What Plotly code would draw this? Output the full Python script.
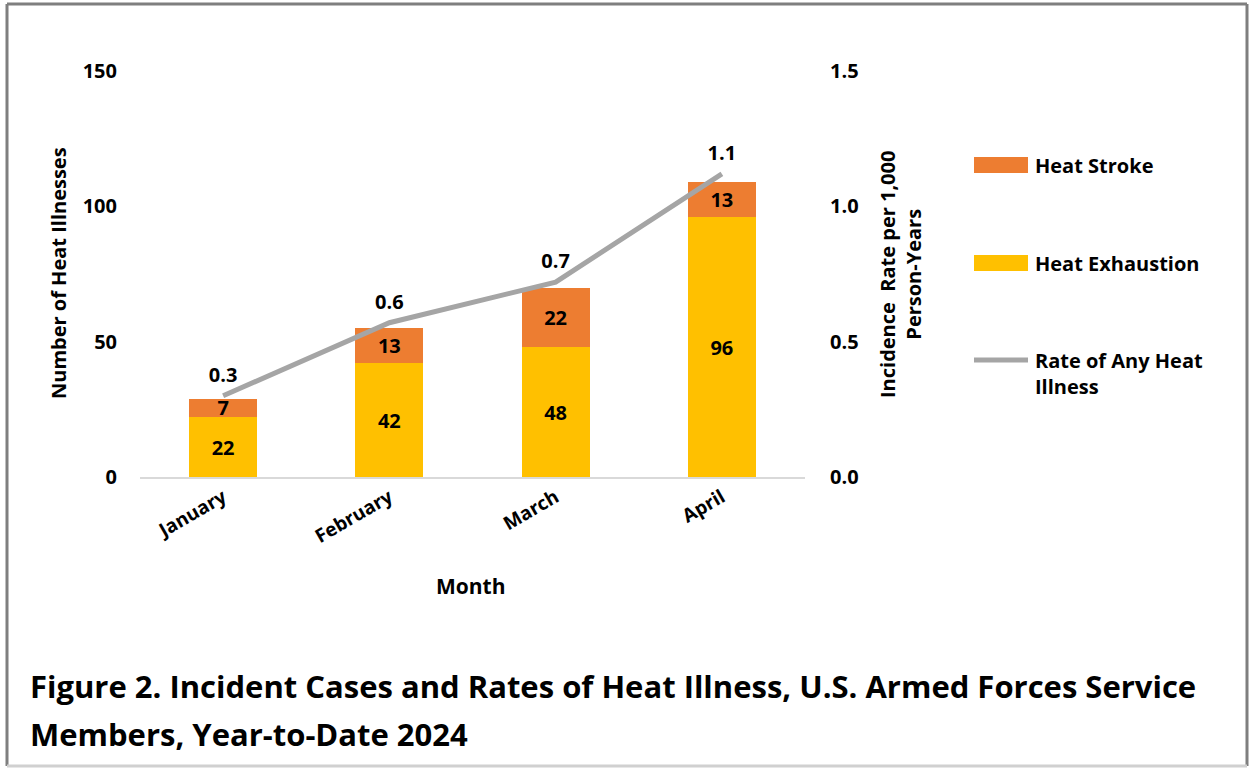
import plotly.graph_objects as go

months = ["January", "February", "March", "April"]
heat_exhaustion = [22, 42, 48, 96]
heat_stroke = [7, 13, 22, 13]
rate_any = [0.30, 0.57, 0.72, 1.12]
left_ticks = [0, 50, 100, 150]
right_ticks = [0.0, 0.5, 1.0, 1.5]
title_lines = ["Figure 2. Incident Cases and Rates of Heat Illness, U.S. Armed Forces Service",
               "Members, Year-to-Date 2024"]

W, H = 1251, 768
PL, PR, PT, PB = 140, 805, 71, 477
FONT = "Open Sans"

def px(x):
    return (x - PL) / (PR - PL)

def py(y):
    return (PB - y) / (PB - PT)

bold20 = dict(family=FONT, size=20, color="black", weight="bold")

fig = go.Figure()
fig.add_trace(go.Bar(
    x=months, y=heat_exhaustion, name="Heat Exhaustion",
    marker=dict(color="#FFC000", line=dict(width=0)),
    text=[str(v) for v in heat_exhaustion], textposition="inside", textangle=0,
    insidetextanchor="middle", constraintext="none",
    textfont=bold20, insidetextfont=bold20,
    width=0.41, showlegend=False,
))
fig.add_trace(go.Bar(
    x=months, y=heat_stroke, name="Heat Stroke",
    marker=dict(color="#ED7D31", line=dict(width=0)),
    text=[str(v) for v in heat_stroke], textposition="inside", textangle=0,
    insidetextanchor="middle", constraintext="none",
    textfont=bold20, insidetextfont=bold20,
    width=0.41, showlegend=False,
))
fig.add_trace(go.Scatter(
    x=months, y=rate_any, name="Rate of Any Heat Illness", yaxis="y2",
    mode="lines+markers+text", line=dict(color="#A5A5A5", width=5),
    marker=dict(size=13, color="rgba(0,0,0,0)"),
    text=[f"{v:.1f}" for v in rate_any], textposition="top center",
    textfont=bold20, showlegend=False, cliponaxis=False,
))

fig.update_layout(
    width=W, height=H, barmode="stack",
    paper_bgcolor="white", plot_bgcolor="white",
    margin=dict(l=PL, r=W - PR, t=PT, b=H - PB, autoexpand=False),
    font=dict(family=FONT, color="black"),
    xaxis=dict(
        range=[-0.5, 3.5], showline=True, linecolor="#D9D9D9", linewidth=2,
        ticks="", tickangle=-30, showgrid=False, automargin=False,
        tickfont=dict(family=FONT, size=19, color="black", weight="bold"),
    ),
    yaxis=dict(
        range=[0, 150], tickvals=left_ticks, showgrid=False, zeroline=False,
        showline=False, ticks="", ticklabelstandoff=22, automargin=False,
        tickfont=bold20,
    ),
    yaxis2=dict(
        range=[0, 1.5], tickvals=right_ticks, tickformat=".1f", overlaying="y",
        side="right", showgrid=False, zeroline=False, showline=False, ticks="",
        ticklabelstandoff=24, automargin=False,
        tickfont=bold20,
    ),
)

P = dict(xref="paper", yref="paper", showarrow=False)
title_font = dict(family=FONT, size=31, color="black", weight="bold")
annotations = [
    dict(**P, x=px(58), y=py(273), text="Number of Heat Illnesses", textangle=-90,
         font=bold20, xanchor="center", yanchor="middle"),
    dict(**P, x=px(900), y=py(275), text="Incidence  Rate per 1,000<br>Person-Years",
         textangle=-90, font=bold20, xanchor="center", yanchor="middle"),
    dict(**P, x=px(471), y=py(586), text="Month",
         font=dict(family=FONT, size=21, color="black", weight="bold"),
         xanchor="center", yanchor="middle"),
    dict(**P, x=px(28), y=py(686), text=title_lines[0], align="left",
         xanchor="left", yanchor="middle", font=title_font),
    dict(**P, x=px(28), y=py(734), text=title_lines[1], align="left",
         xanchor="left", yanchor="middle", font=title_font),
]
legend_items = [
    ("Heat Stroke", "#ED7D31", 165, "bar"),
    ("Heat Exhaustion", "#FFC000", 263, "bar"),
    ("Rate of Any Heat<br>Illness", "#A5A5A5", 360, "line"),
]
dark = dict(color="#7F7F7F", width=3)
shapes = [
    dict(type="line", xref="paper", yref="paper", x0=px(7), x1=px(1247), y0=py(4), y1=py(4), line=dark),
    dict(type="line", xref="paper", yref="paper", x0=px(7), x1=px(7), y0=py(4), y1=py(766), line=dark),
    dict(type="line", xref="paper", yref="paper", x0=px(1247), x1=px(1247), y0=py(4), y1=py(766), line=dark),
    dict(type="line", xref="paper", yref="paper", x0=px(7), x1=px(1247), y0=py(766), y1=py(766),
         line=dict(color="#D0D0D0", width=3)),
]
leg_font = dict(family=FONT, size=20, color="black", weight="bold")
for label, color, yc, kind in legend_items:
    if kind == "bar":
        shapes.append(dict(type="rect", xref="paper", yref="paper", x0=px(974), x1=px(1028),
                           y0=py(yc - 8), y1=py(yc + 8), fillcolor=color, line=dict(width=0)))
        annotations.append(dict(**P, x=px(1033), y=py(yc), text=label,
                                xanchor="left", yanchor="middle", align="left", font=leg_font))
    else:
        shapes.append(dict(type="line", xref="paper", yref="paper", x0=px(974), x1=px(1028),
                           y0=py(yc), y1=py(yc), line=dict(color=color, width=5)))
        annotations.append(dict(**P, x=px(1033), y=py(yc - 15), text=label,
                                xanchor="left", yanchor="top", align="left", font=leg_font))
fig.update_layout(annotations=annotations, shapes=shapes)

fig.write_html("out.html", config={"displayModeBar": False},
               post_script="document.body.style.margin='0';")
